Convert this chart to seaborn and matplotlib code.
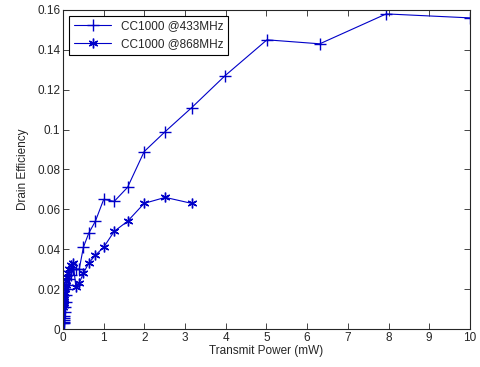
import numpy as np
import pandas as pd
import matplotlib
matplotlib.use('Agg')
import matplotlib.pyplot as plt
import seaborn as sns

# transmit power steps (dBm -> mW)
dbm_433 = list(range(10, -21, -1))
dbm_868 = list(range(5, -21, -1))
pw_433 = [10 ** (d / 10) for d in dbm_433]
pw_868 = [10 ** (d / 10) for d in dbm_868]

eff_433 = [0.156, 0.158, 0.143, 0.145, 0.127, 0.111, 0.099, 0.089, 0.071, 0.064,
           0.065, 0.054, 0.048, 0.041, 0.030, 0.030, 0.030, 0.027, 0.025, 0.022,
           0.020, 0.017, 0.0135, 0.011, 0.0085, 0.0065, 0.0055, 0.0045, 0.0035, 0.003,
           0.003]
eff_868 = [0.063, 0.066, 0.063, 0.054, 0.049, 0.041, 0.037, 0.033, 0.028, 0.023,
           0.021, 0.033, 0.032, 0.030, 0.028, 0.026, 0.024, 0.022, 0.020, 0.018,
           0.016, 0.015, 0.014, 0.013, 0.012, 0.011]

labels = ['CC1000 @433MHz', 'CC1000 @868MHz']
blue = '#0000c8'

sns.set_style('ticks')
plt.rcParams['font.family'] = ['Liberation Sans', 'DejaVu Sans']

fig = plt.figure(figsize=(4.81, 3.67), dpi=100)
ax = fig.add_axes([0.131, 0.1035, 0.846, 0.8695])

d1 = pd.DataFrame({'p': pw_433, 'e': eff_433})
d2 = pd.DataFrame({'p': pw_868, 'e': eff_868})
sns.lineplot(data=d1, x='p', y='e', ax=ax, color=blue, lw=0.8, marker='+',
             markersize=8, mew=1.0, mec=blue, mfc=blue, sort=False,
             estimator=None, label=labels[0])
sns.lineplot(data=d2, x='p', y='e', ax=ax, color=blue, lw=0.8, marker=(6, 2, 0),
             markersize=7, mew=1.0, mec=blue, mfc=blue, sort=False,
             estimator=None, label=labels[1])

ax.set_xlim(0, 10)
ax.set_ylim(0, 0.16)
ax.set_xticks(range(0, 11))
ax.set_yticks(np.arange(0, 0.161, 0.02))
ax.set_yticklabels(['0', '0.02', '0.04', '0.06', '0.08', '0.1', '0.12', '0.14', '0.16'])
ax.tick_params(direction='in', top=True, right=True, labelsize=8.5, length=4, width=0.6,
               pad=2)
for s in ax.spines.values():
    s.set_linewidth(0.8)
ax.set_xlabel('Transmit Power (mW)', fontsize=8.5, labelpad=1)
ax.set_ylabel('Drain Efficiency', fontsize=8.5, labelpad=6)

leg = ax.legend(loc='upper left', fontsize=8.5, fancybox=False, framealpha=1,
                edgecolor='black', borderaxespad=0.5, handlelength=3.2,
                labelspacing=0.5, borderpad=0.4)
leg.get_frame().set_linewidth(0.8)

fig.savefig('out.png', dpi=100)
